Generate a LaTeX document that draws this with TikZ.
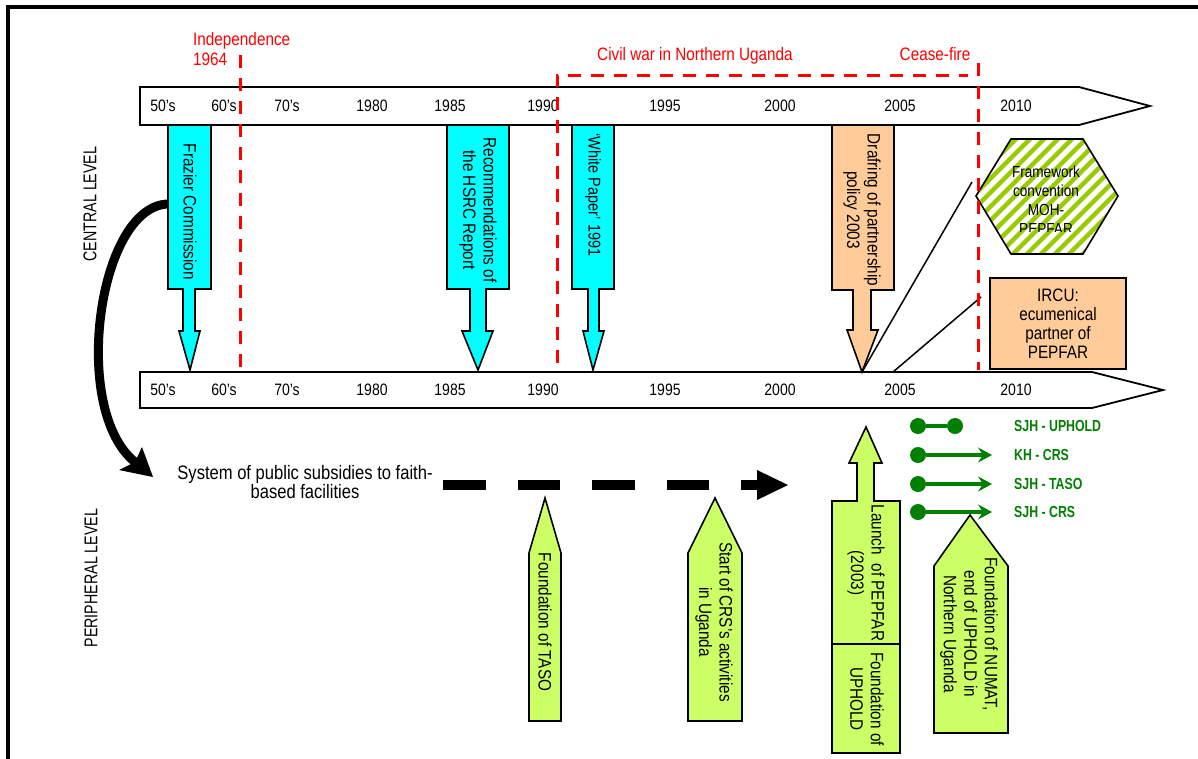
\documentclass[tikz,border=0pt]{standalone}
\usepackage{fontspec}
\setmainfont{Liberation Sans}
\newfontfamily\nar{Liberation Sans}[FakeStretch=0.85]
\newfontfamily\narc{Liberation Sans}[FakeStretch=0.77]
\usetikzlibrary{arrows.meta}
\definecolor{arcyan}{RGB}{0,255,255}
\definecolor{peach}{RGB}{255,204,153}
\definecolor{lime}{RGB}{204,255,102}
\definecolor{stripegreen}{RGB}{153,204,0}
\definecolor{lgreen}{RGB}{0,128,0}
\begin{document}
\begin{tikzpicture}[x=1pt,y=-1pt,
  yr/.style={font=\nar\fontsize{16.5}{18}\selectfont, anchor=base, inner sep=0},
  redlbl/.style={text=red, font=\nar\fontsize{18}{20}\selectfont, inner sep=0},
  rottext/.style={rotate=-90, align=center, inner sep=0, font=\nar\fontsize{18}{20.5}\selectfont},
  shp/.style={draw=black, line width=1.6pt, line join=miter},
  reddash/.style={draw=red, line width=3pt, dash pattern=on 13pt off 10pt},
  thinline/.style={draw=black, line width=1.5pt},
  lgdot/.style={circle, fill=lgreen, minimum size=16pt, inner sep=0},
  lgline/.style={draw=lgreen, line width=4pt},
  lgarrow/.style={lgline, -{Stealth[length=14pt, width=15pt, inset=5pt]}},
  lgtext/.style={text=lgreen, anchor=west, inner sep=0, font=\narc\bfseries\fontsize{16}{18}\selectfont},
  leveltext/.style={rotate=90, inner sep=0, font=\narc\fontsize{18.5}{20}\selectfont}
]
\useasboundingbox (0,0) rectangle (1198,758);
\fill[white] (0,0) rectangle (1198,758);
\begin{scope}
  \clip (0,0) rectangle (1198,758);
  \draw[line width=3.5pt] (8,775) -- (8,7) -- (1215,7);
\end{scope}

% timeline bars
\draw[shp, line width=1.8pt, fill=white] (140,87) -- (1079,87) -- (1150,106) -- (1079,125) -- (140,125) -- cycle;
\draw[shp, line width=1.8pt, fill=white] (140,372) -- (1092,372) -- (1163,390) -- (1092,408) -- (140,408) -- cycle;
\foreach \x/\t [count=\i] in {163/50’s,224/60’s,287/70’s,372/1980,450/1985,543/1990,665/1995,780/2000,900/2005,1016/2010}{
  \node[yr] (ty\i) at (\x,111) {\t};
  \node[yr] (by\i) at (\x,395) {\t};
}

% central level arrows
\draw[shp, fill=arcyan] (168,125) -- (211,125) -- (211,289) -- (195,289) -- (195,331) -- (200,331) -- (190,370) -- (179,331) -- (183,331) -- (183,289) -- (168,289) -- cycle;
\node[rottext] (frz) at (190,212) {Frazier Commission};
\draw[shp, fill=arcyan] (447,125) -- (509,125) -- (509,289) -- (486,289) -- (486,331) -- (493,331) -- (478,370) -- (462,331) -- (470,331) -- (470,289) -- (447,289) -- cycle;
\node[rottext] (hsrc) at (478,210) {Recommendations of\\the HSRC Report};
\draw[shp, fill=arcyan] (572,125) -- (614,125) -- (614,289) -- (599,289) -- (599,331) -- (604,331) -- (593,370) -- (583,331) -- (588,331) -- (588,289) -- (572,289) -- cycle;
\node[rottext, font=\nar\fontsize{17}{19}\selectfont] (wp) at (593,195) {‘White Paper’ 1991};
\draw[shp, fill=peach] (832,125) -- (894,125) -- (894,290) -- (871,290) -- (871,330) -- (878,330) -- (862,372) -- (847,330) -- (853,330) -- (853,290) -- (832,290) -- cycle;
\node[rottext] (draft) at (862,210) {Drafring of partnership\\policy 2003};

% hexagon
\path (976,196) coordinate (h1) (1011,139) coordinate (h2) (1083,139) coordinate (h3)
      (1118,196) coordinate (h4) (1083,254) coordinate (h5) (1011,254) coordinate (h6);
\fill[white] (h1) -- (h2) -- (h3) -- (h4) -- (h5) -- (h6) -- cycle;
\begin{scope}
  \clip (h1) -- (h2) -- (h3) -- (h4) -- (h5) -- (h6) -- cycle;
  \foreach \k in {0,...,21}{
    \draw[stripegreen, line width=4.5pt] ({843+14*\k},270) -- ++(140,-140);
  }
\end{scope}
\draw[shp] (h1) -- (h2) -- (h3) -- (h4) -- (h5) -- (h6) -- cycle;
\begin{scope}
  \clip (990,150) rectangle (1100,231);
  \node[align=center, inner sep=0, font=\nar\fontsize{16}{19}\selectfont] (fw) at (1046,200) {Framework\\convention\\MOH-\\PEPFAR};
\end{scope}

% IRCU box
\node[draw, line width=1.6pt, fill=peach, minimum width=136pt, minimum height=91pt, align=center, inner sep=0, font=\nar\fontsize{18}{19}\selectfont] (ircu) at (1058,323.5) {IRCU:\\ecumenical\\partner of\\PEPFAR};

% thin connectors
\coordinate (drtip) at (862,372);
\coordinate (fwend) at (972,182);
\coordinate (b05) at (893,372);
\coordinate (irend) at (981,297);
\draw[thinline] (drtip) -- (fwend);
\draw[thinline] (b05) -- (irend);

% red dashed lines and labels
\draw[reddash] (240,55) -- (240,370);
\draw[reddash] (557,363) -- (557,75) -- (968,75);
\draw[reddash] (978,63) -- (978,370);
\node[redlbl, align=left, anchor=north west] (indep) at (193,32) {Independence\\1964};
\node[redlbl, anchor=base] (civil) at (695,60) {Civil war in Northern Uganda};
\node[redlbl, anchor=base] (cease) at (935,60) {Cease-fire};

% level labels
\node[leveltext] (central) at (90,204) {CENTRAL LEVEL};
\node[leveltext] (periph) at (91,578) {PERIPHERAL LEVEL};

% curved arrow
\coordinate (frzl) at (168,204);
\coordinate (cend) at (135,462);
\draw[line width=9pt] (frzl) .. controls (98,206) and (70,410) .. (cend);
\fill (153,477) -- (119,470) -- (135,462) -- (142,447) -- cycle;

% system of subsidies
\node[align=center, inner sep=0, font=\nar\fontsize{19.5}{19}\selectfont] (sys) at (305,482.5) {System of public subsidies to faith-\\based facilities};
\coordinate (dstart) at (443,485);
\coordinate (dend) at (757,485);
\draw[line width=10pt, dash pattern=on 42.5pt off 32pt] (dstart) -- (dend);
\fill (dend) ++(0,-15) -- ++(31,15) -- ++(-31,15) -- cycle;

% legend
\node[lgdot] (l1a) at (918,426) {};
\node[lgdot] (l1b) at (955,426) {};
\draw[lgline] (l1a) -- (l1b);
\node[lgdot] (l2a) at (918,455) {};
\coordinate (l2b) at (992,455);
\draw[lgarrow] (l2a) -- (l2b);
\node[lgdot] (l3a) at (918,484) {};
\coordinate (l3b) at (992,484);
\draw[lgarrow] (l3a) -- (l3b);
\node[lgdot] (l4a) at (918,512) {};
\coordinate (l4b) at (992,512);
\draw[lgarrow] (l4a) -- (l4b);
\node[lgtext] (t1) at (1014,426) {SJH - UPHOLD};
\node[lgtext] (t2) at (1014,455) {KH - CRS};
\node[lgtext] (t3) at (1014,484) {SJH - TASO};
\node[lgtext] (t4) at (1014,512) {SJH - CRS};

% peripheral level arrows
\draw[shp, fill=lime] (529,721) -- (529,553) -- (545,498) -- (561,553) -- (561,721) -- cycle;
\node[rottext] (taso) at (545,622) {Foundation of TASO};
\draw[shp, fill=lime] (688,721) -- (688,553) -- (715,498) -- (742,553) -- (742,721) -- cycle;
\node[rottext] (crs) at (714,622) {Start of CRS’s activities\\in Uganda};
\draw[shp, fill=lime] (832,753) -- (832,501) -- (857,501) -- (857,463) -- (849,463) -- (866,427) -- (882,463) -- (874,463) -- (874,501) -- (900,501) -- (900,753) -- cycle;
\draw[shp] (832,644) -- (900,644);
\node[rottext] (pepfar) at (866,573) {Launch\ \ of PEPFAR\\(2003)};
\node[rottext] (uphold) at (867,699) {Foundation of\\UPHOLD};
\draw[shp, fill=lime] (934,733) -- (934,566) -- (970,515) -- (1008,566) -- (1008,733) -- cycle;
\node[rottext] (numat) at (969,634) {Foundation of NUMAT,\\end of UPHOLD in\\Northern Uganda};
\end{tikzpicture}
\end{document}
